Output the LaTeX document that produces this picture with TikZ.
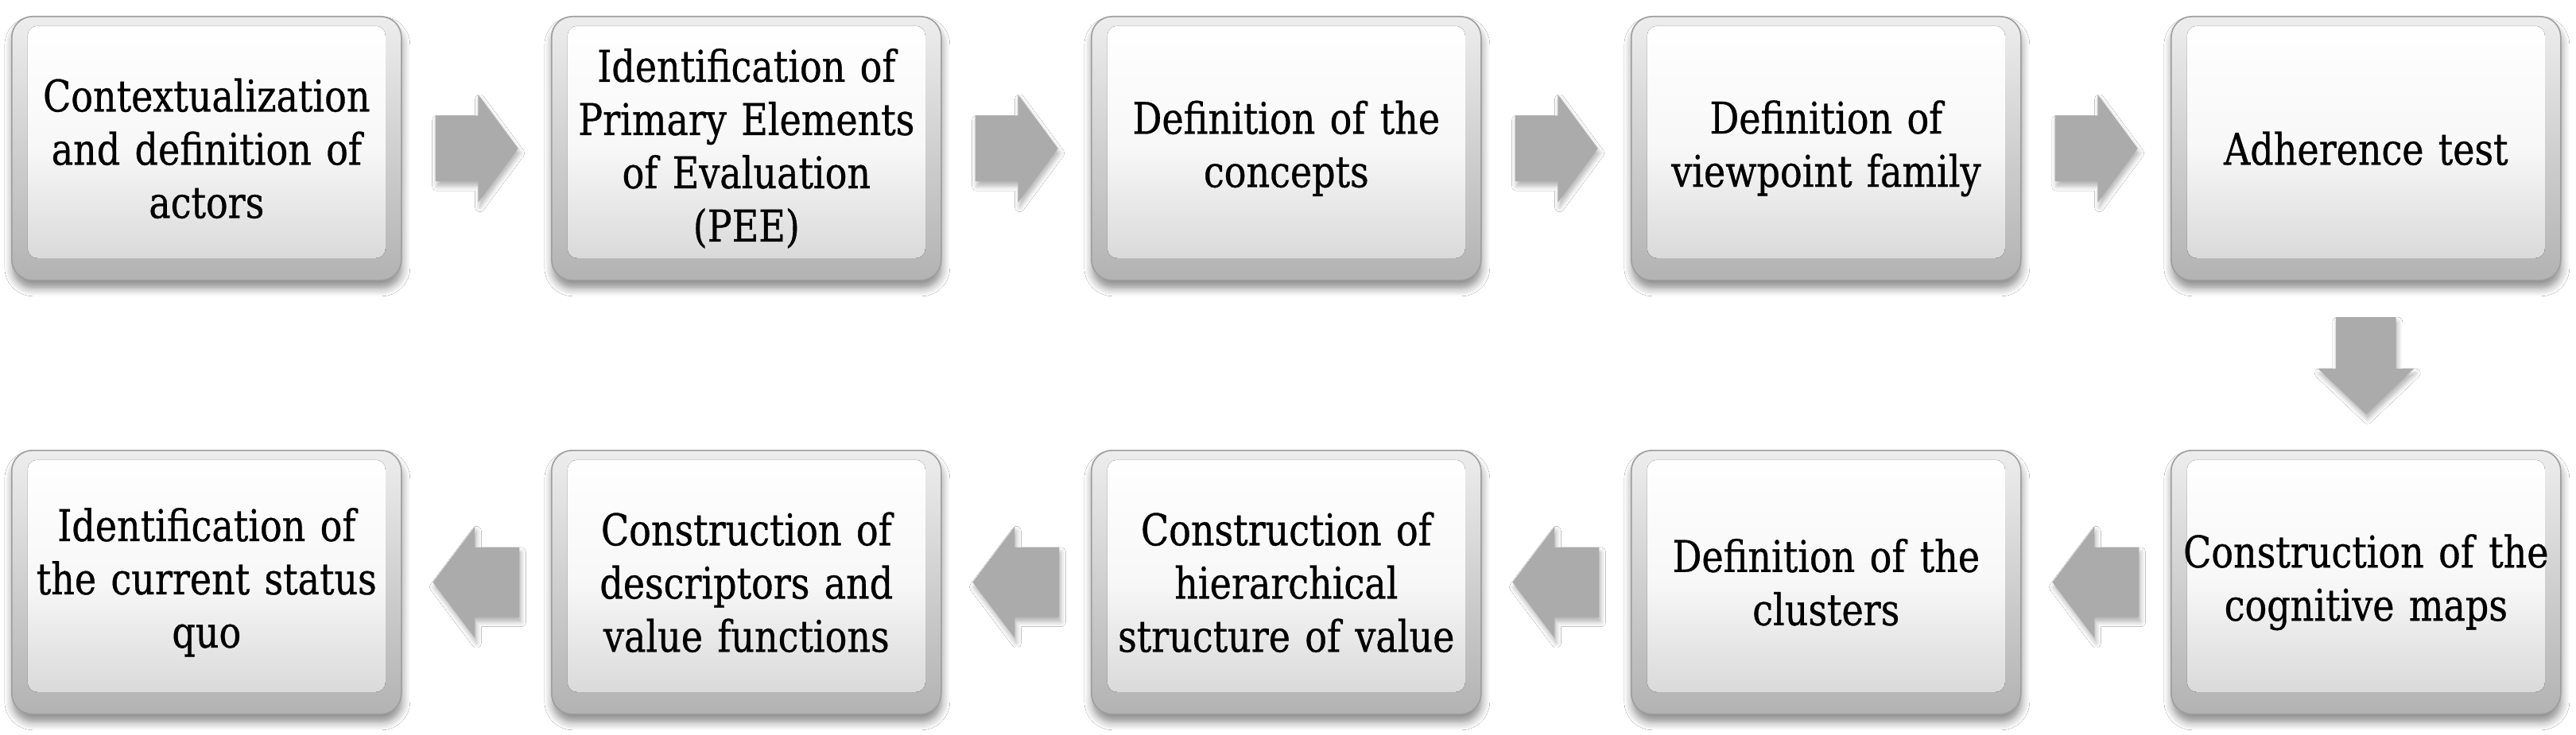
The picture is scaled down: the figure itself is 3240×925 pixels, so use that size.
\documentclass[tikz,border=0pt]{standalone}
\usepackage{fontspec}
\setmainfont[FakeStretch=0.93,FakeBold=0.6]{DejaVu Serif Condensed}
\usetikzlibrary{shapes.arrows,shadows.blur,calc}
\begin{document}
\begin{tikzpicture}[x=0.5pt,y=-0.5pt,
  stepbox/.style={rectangle, rounded corners=13pt, minimum width=245pt, minimum height=166pt,
    inner sep=0pt, anchor=north west, draw=black!38, line width=0.8pt,
    top color=black!7, bottom color=black!30,
    blur shadow={shadow xshift=0.5pt, shadow yshift=-5pt, shadow blur radius=5pt, shadow blur steps=6, shadow opacity=45},
    path picture={\fill[top color=white, bottom color=black!17, middle color=black!3, rounded corners=6pt]
      ([xshift=10pt,yshift=-6pt]path picture bounding box.north west) rectangle
      ([xshift=-10pt,yshift=14pt]path picture bounding box.south east);},
    text width=236pt, align=center, font=\fontsize{27.5pt}{33.5pt}\selectfont},
  arrowbase/.style={single arrow, draw=none, fill=black!33, single arrow head indent=0pt, anchor=tail,
    blur shadow={shadow xshift=1pt, shadow yshift=-3pt, shadow blur radius=3pt, shadow blur steps=5, shadow opacity=30}},
  arrowR/.style={arrowbase, inner xsep=0pt, inner ysep=20.5pt, minimum height=52pt, xshift=-26pt,
    single arrow head extend=13.25pt, single arrow tip angle=107},
  arrowL/.style={arrowbase, shape border rotate=180, inner xsep=0pt, inner ysep=21.75pt, minimum height=54.5pt, xshift=27.25pt,
    single arrow head extend=13.25pt, single arrow tip angle=106},
  arrowD/.style={arrowbase, shape border rotate=270, inner ysep=0pt, inner xsep=18.75pt, minimum height=61pt, yshift=30.5pt,
    single arrow head extend=11.25pt, single arrow tip angle=93}
]
\fill[white] (0,0) rectangle (3240,925);
\useasboundingbox (0,0) rectangle (3240,925);

% top row
\node[stepbox] (b1) at (14,20)   {Contextualization\\and definition of\\actors};
\node[stepbox] (b2) at (693,20)  {Identification of\\Primary Elements\\of Evaluation\\(PEE)};
\node[stepbox] (b3) at (1372,20) {Definition of the\\concepts};
\node[stepbox] (b4) at (2051,20) {Definition of\\viewpoint family};
\node[stepbox] (b5) at (2730,20) {Adherence test};

% bottom row
\node[stepbox] (b6)  at (2730,566) {Construction of the\\cognitive maps};
\node[stepbox] (b7)  at (2051,566) {Definition of the\\clusters};
\node[stepbox] (b8)  at (1372,566) {Construction of\\hierarchical\\structure of value};
\node[stepbox] (b9)  at (693,566)  {Construction of\\descriptors and\\value functions};
\node[stepbox] (b10) at (14,566)   {Identification of\\the current status\\quo};

% arrows
\node[arrowR] (a1) at ($(b1.east)!0.5!(b2.west)$) {};
\node[arrowR] (a2) at ($(b2.east)!0.5!(b3.west)$) {};
\node[arrowR] (a3) at ($(b3.east)!0.5!(b4.west)$) {};
\node[arrowR] (a4) at ($(b4.east)!0.5!(b5.west)$) {};
\node[arrowD] (a5) at ($(b5.south)!0.5!(b6.north)$) {};
\node[arrowL] (a6) at ($(b6.west)!0.5!(b7.east)$) {};
\node[arrowL] (a7) at ($(b7.west)!0.5!(b8.east)$) {};
\node[arrowL] (a8) at ($(b8.west)!0.5!(b9.east)$) {};
\node[arrowL] (a9) at ($(b9.west)!0.5!(b10.east)$) {};
\end{tikzpicture}
\end{document}
